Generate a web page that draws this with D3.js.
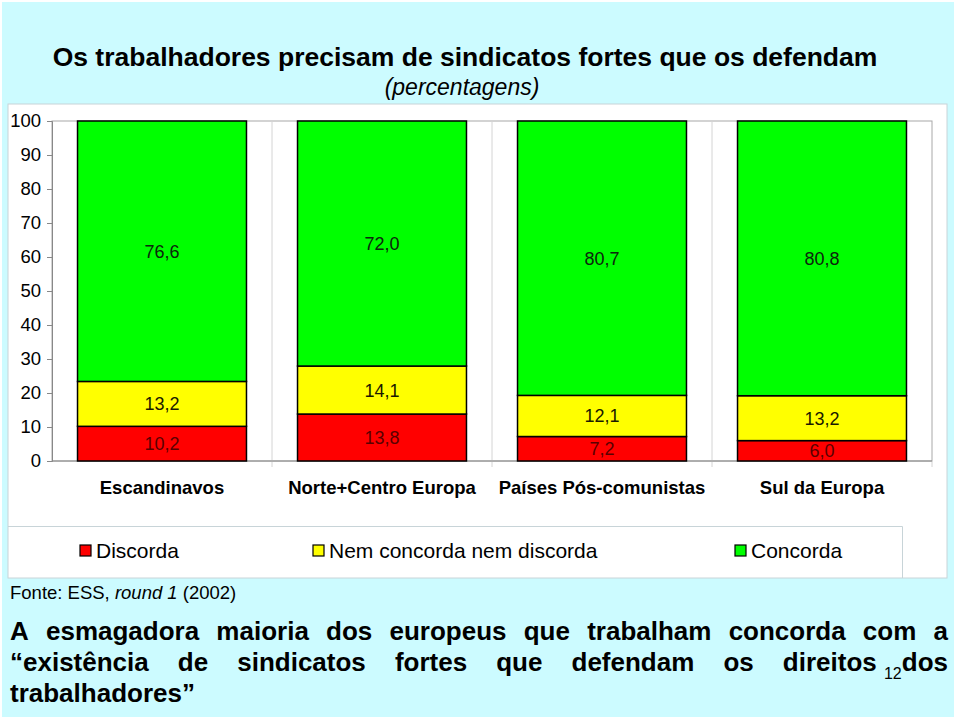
<!DOCTYPE html>
<html><head><meta charset="utf-8">
<script src="https://cdn.jsdelivr.net/npm/d3@7"></script>
<style>
html,body{margin:0;padding:0;background:#fff;}
svg{display:block;font-family:"Liberation Sans",Arial,sans-serif;}
</style></head>
<body>
<svg id="c" width="960" height="720"></svg>
<script>
const categories = ["Escandinavos","Norte+Centro Europa","Países Pós-comunistas","Sul da Europa"];
const seriesNames = ["Discorda","Nem concorda nem discorda","Concorda"];
const discorda = [10.2, 13.8, 7.2, 6.0];
const nemNem = [13.2, 14.1, 12.1, 13.2];
const concorda = [76.6, 72.0, 80.7, 80.8];
const yTicks = [0,10,20,30,40,50,60,70,80,90,100];
const colors = ["#ff0000","#ffff00","#00ff00"];
const labelColors = ["#5a0000","#1a1a00","#0d260d"];

const svg = d3.select("#c");
// backgrounds
svg.append("rect").attr("x",2).attr("y",2).attr("width",952).attr("height",715).attr("fill","#ccfbff");
svg.append("rect").attr("x",8).attr("y",104).attr("width",939).attr("height",474)
  .attr("fill","#fff").attr("stroke","#c8d4d8").attr("stroke-width",1);

// titles
svg.append("text").attr("x",465).attr("y",66).attr("text-anchor","middle")
  .attr("font-size",26.5).attr("font-weight","bold").attr("fill","#000")
  .text("Os trabalhadores precisam de sindicatos fortes que os defendam");
svg.append("text").attr("x",462).attr("y",95).attr("text-anchor","middle")
  .attr("font-size",23).attr("font-style","italic").attr("fill","#000")
  .text("(percentagens)");

const plot = {l:52, r:932, t:121, b:461};
const x = d3.scaleBand().domain(categories).range([plot.l, plot.r]).paddingInner(0.232).paddingOuter(0.116);
const y = d3.scaleLinear().domain([0,100]).range([plot.b, plot.t]);

const rows = categories.map((c,i)=>({cat:c, d:discorda[i], n:nemNem[i], c:concorda[i]}));
const stack = d3.stack().keys(["d","n","c"]).offset(d3.stackOffsetExpand);
const layers = stack(rows);

const g = svg.append("g");
// plot border
g.append("rect").attr("x",plot.l).attr("y",plot.t).attr("width",plot.r-plot.l).attr("height",plot.b-plot.t)
  .attr("fill","none").attr("stroke","#a8a8a8").attr("stroke-width",1);
// category separators
const step = x.step();
categories.slice(1).forEach((c)=>{
  const xx = x(c) - x.paddingInner()*step/2;
  g.append("line").attr("x1",xx).attr("x2",xx).attr("y1",plot.t).attr("y2",plot.b+6)
    .attr("stroke","#d4d4d4").attr("stroke-width",1);
});
g.append("line").attr("x1",plot.r).attr("x2",plot.r).attr("y1",plot.b).attr("y2",plot.b+6).attr("stroke","#d4d4d4");

// y axis
const yAxis = d3.axisLeft(y).tickValues(yTicks).tickSize(5).tickPadding(6).tickFormat(d3.format("d"));
const ya = svg.append("g").attr("transform",`translate(${plot.l},0)`).call(yAxis);
ya.select(".domain").attr("stroke","#888");
ya.selectAll(".tick line").attr("stroke","#888");
ya.selectAll(".tick text").attr("font-size",18.5).attr("fill","#000").attr("font-family","Liberation Sans, Arial, sans-serif");
// x axis line
svg.append("line").attr("x1",plot.l).attr("x2",plot.r).attr("y1",plot.b).attr("y2",plot.b).attr("stroke","#888");

// bars
layers.forEach((layer,li)=>{
  const lg = svg.append("g");
  lg.selectAll("rect").data(layer).join("rect")
    .attr("x",d=>x(d.data.cat)).attr("width",x.bandwidth())
    .attr("y",d=>y(d[1]*100)).attr("height",d=>y(d[0]*100)-y(d[1]*100))
    .attr("fill",colors[li]).attr("stroke","#000").attr("stroke-width",1.5);
  lg.selectAll("text").data(layer).join("text")
    .attr("x",d=>x(d.data.cat)+x.bandwidth()/2)
    .attr("y",d=>(y(d[0]*100)+y(d[1]*100))/2)
    .attr("dy","0.36em").attr("text-anchor","middle")
    .attr("font-size",18).attr("fill",labelColors[li])
    .text(d=>d3.format(".1f")(d.data[layer.key]).replace(".",","));
});

// category labels
svg.append("g").selectAll("text").data(categories).join("text")
  .attr("x",d=>x(d)+x.bandwidth()/2).attr("y",494).attr("text-anchor","middle")
  .attr("font-size",18.5).attr("font-weight","bold").text(d=>d);

// legend box
svg.append("path").attr("d","M8,526.5H902.5V578").attr("fill","none").attr("stroke","#c8d4d8");
const legX = [80, 313, 735];
seriesNames.forEach((s,i)=>{
  svg.append("rect").attr("x",legX[i]).attr("y",545).attr("width",11).attr("height",11)
    .attr("fill",colors[i]).attr("stroke","#000").attr("stroke-width",1.2);
  svg.append("text").attr("x",legX[i]+16).attr("y",558).attr("font-size",21).text(s);
});

// source
const src = svg.append("text").attr("x",10).attr("y",599).attr("font-size",18.5);
src.append("tspan").text("Fonte: ESS, ");
src.append("tspan").attr("font-style","italic").text("round 1");
src.append("tspan").text(" (2002)");

// justified bottom text
function justify(words, x0, x1, yy, fs){
  const nodes = words.map(w=>{
    const t = svg.append("text").attr("y",yy).attr("font-size",fs).attr("font-weight","bold").attr("fill","#000");
    if (typeof w === "string") t.text(w);
    else w(t);
    return t;
  });
  const widths = nodes.map(n=>n.node().getComputedTextLength());
  const total = d3.sum(widths);
  const gap = (x1-x0-total)/(words.length-1);
  let cx = x0;
  nodes.forEach((n,i)=>{ n.attr("x",cx); cx += widths[i]+gap; });
}
const fsB = 26;
justify(["A","esmagadora","maioria","dos","europeus","que","trabalham","concorda","com","a"],10,948,640,fsB);
justify(["\u201Cexistência","de","sindicatos","fortes","que","defendam","os",
  t=>{ t.append("tspan").text("direitos ");
       t.append("tspan").attr("font-size",16).attr("font-weight","normal").attr("dy",8).text("12");
       t.append("tspan").attr("dy",-8).text("dos"); }],10,948,671,fsB);
svg.append("text").attr("x",10).attr("y",702).attr("font-size",fsB).attr("font-weight","bold").text("trabalhadores\u201D");
</script>
</body></html>
